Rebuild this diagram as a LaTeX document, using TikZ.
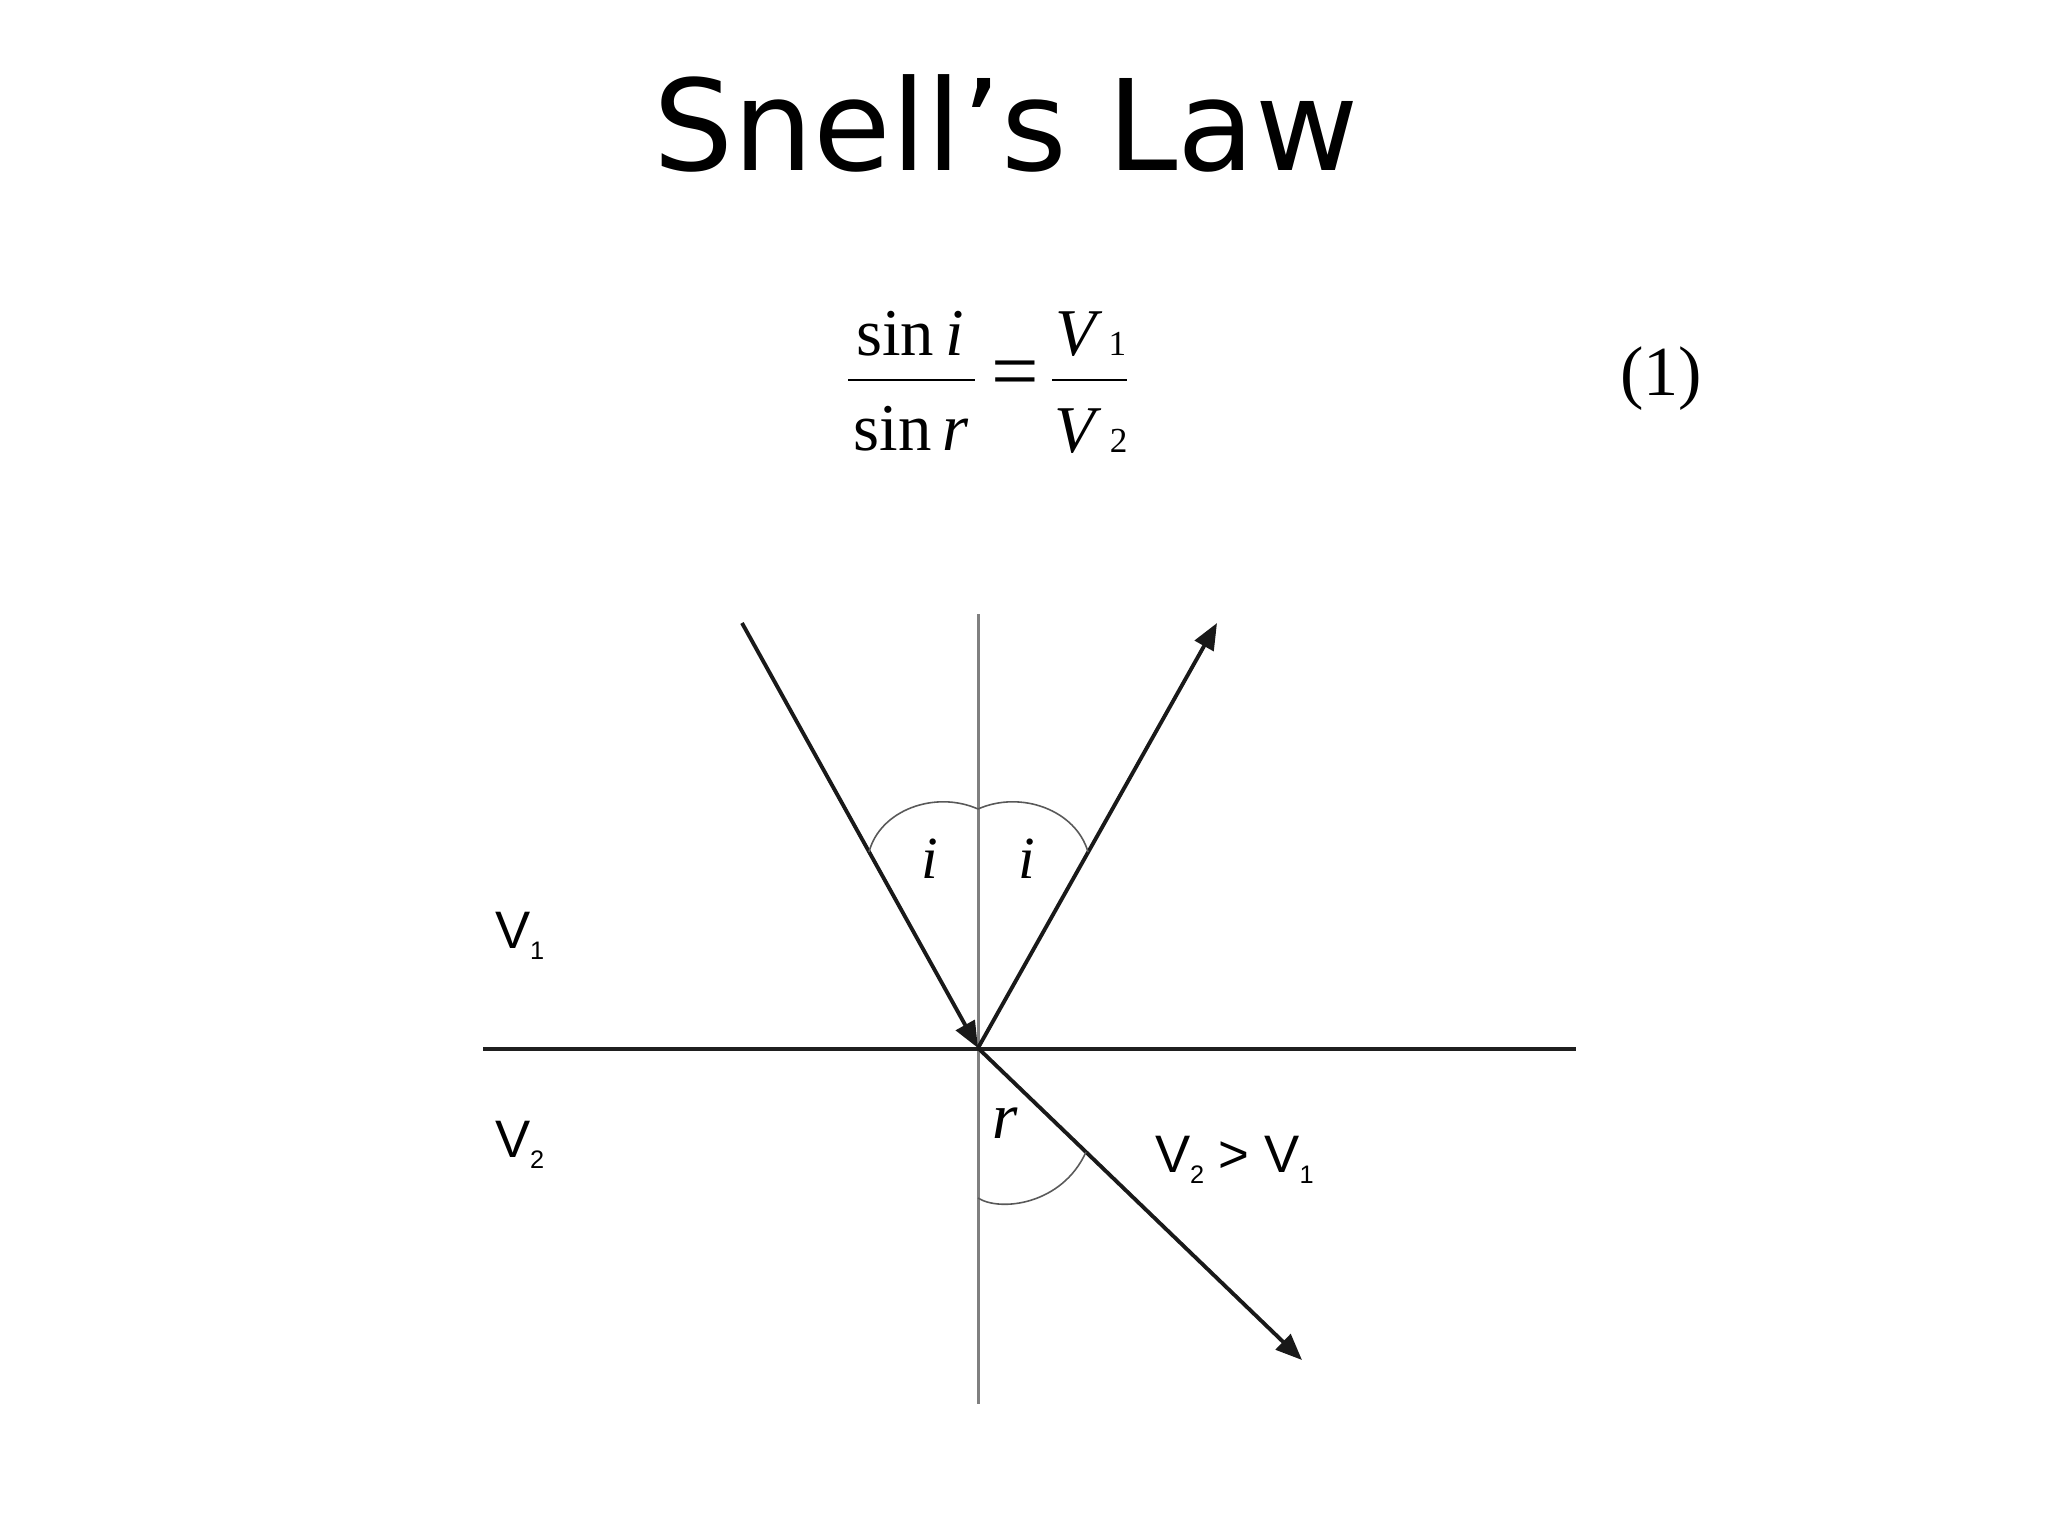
\documentclass[tikz,border=0pt]{standalone}
\usepackage{fontspec}
\setmainfont{Liberation Serif}
\newfontfamily\titlefont{DejaVu Sans}
\newfontfamily\lblfont{Liberation Sans}
\usetikzlibrary{arrows.meta}
\newcommand{\subdig}[1]{\raisebox{-3.4pt}{\fontsize{7.2}{8}\selectfont #1}}
\newcommand{\eqdig}[1]{{\fontsize{10}{12}\selectfont #1}}
\newcommand{\eqsize}{\fontsize{19}{23}\selectfont}
\begin{document}
\begin{tikzpicture}[x=0.01cm,y=-0.01cm,
  txt/.style={inner sep=0pt, outer sep=0pt},
  lbl/.style={txt, font=\lblfont\fontsize{15}{18}\selectfont},
  ray/.style={line width=1.1pt, black!90, -{Triangle[length=7.5pt,width=6pt]}},
  normalline/.style={line width=0.85pt, black!50},
  interface/.style={line width=1.4pt, black!88},
  anglearc/.style={line width=0.45pt, black!65},
  fracbar/.style={line width=0.8pt, black}]
\useasboundingbox (0,0) rectangle (2048,1536);

% title
\node[txt, anchor=base] (title) at (1006,170) {\titlefont\fontsize{35.9}{40}\selectfont Snell’s Law};

% equation
\node[txt, anchor=base] (num1) at (910,355) {\eqsize sin\hspace{0.16em}\textit{i}};
\node[txt, anchor=base] (den1) at (911,450) {\eqsize sin\hspace{0.16em}\textit{r}};
\coordinate (b1l) at (848,380); \coordinate (b1r) at (975,380);
\draw[fracbar] (b1l) -- (b1r);
\node[txt] (eq) at (1015,380) {\fontsize{24}{28}\selectfont =};
\node[txt, anchor=base] (num2) at (1091,355) {\eqsize\textit{V}\hspace{0.08em}\eqdig{1}};
\node[txt, anchor=base] (den2) at (1091,452) {\eqsize\textit{V}\hspace{0.12em}\eqdig{2}};
\coordinate (b2l) at (1052,380); \coordinate (b2r) at (1127,380);
\draw[fracbar] (b2l) -- (b2r);
\node[txt] (eqno) at (1661,379) {\fontsize{20}{24}\selectfont (1)};

% geometry
\coordinate (O) at (978,1048);
\coordinate (ntop) at (978,614);
\coordinate (nbot) at (978,1404);
\coordinate (ifl) at (483,1049);
\coordinate (ifr) at (1576,1049);
\coordinate (inc) at (742,623);
\coordinate (refl) at (1217,623);
\coordinate (refr) at (1302,1360);

\draw[normalline] (ntop) -- (nbot);
\draw[interface] (ifl) -- (ifr);
\draw[ray] (inc) -- (O);
\draw[ray] (O) -- (refl);
\draw[ray] (O) -- (refr);

% angle arcs
\coordinate (a1) at (869,852);
\coordinate (a2) at (978,809);
\coordinate (a3) at (1088,852);
\coordinate (r1) at (978,1198);
\coordinate (r2) at (1086,1152);
\draw[anglearc] (a1) .. controls (880,810) and (935,790) .. (a2);
\draw[anglearc] (a2) .. controls (1021,790) and (1076,810) .. (a3);
\draw[anglearc] (r1) .. controls (1000,1212) and (1062,1205) .. (r2);

% labels
\node[txt, anchor=base] (il) at (930,878) {\fontsize{17}{20}\selectfont\textit{i}};
\node[txt, anchor=base] (ir) at (1027,878) {\fontsize{17}{20}\selectfont\textit{i}};
\node[txt, anchor=base] (rl) at (1005,1138) {\fontsize{18.5}{22}\selectfont\textit{r}};
\node[lbl, anchor=base west] (v1) at (495,948) {V\subdig{1}};
\node[lbl, anchor=base west] (v2) at (495,1157) {V\subdig{2}};
\node[lbl, anchor=base west] (cmp) at (1155,1172) {V\subdig{2} > V\subdig{1}};
\end{tikzpicture}
\end{document}
